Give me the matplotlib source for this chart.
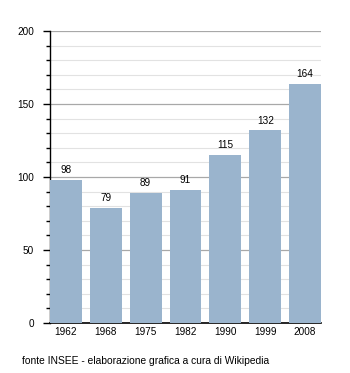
import matplotlib
matplotlib.use("Agg")
import matplotlib.pyplot as plt
from matplotlib.ticker import MultipleLocator

YEARS = ["1962", "1968", "1975", "1982", "1990", "1999", "2008"]
POPULATION = [98, 79, 89, 91, 115, 132, 164]
SOURCE = "fonte INSEE - elaborazione grafica a cura di Wikipedia"

BAR_COLOR = "#9ab4cd"

plt.rcParams["font.family"] = ["Liberation Sans", "DejaVu Sans"]

fig = plt.figure(figsize=(3.5, 3.73), dpi=100)
ax = fig.add_axes([50 / 350, 1 - 323 / 373, 271 / 350, 292 / 373])

xs = list(range(len(YEARS)))
ax.bar(xs, POPULATION, width=0.8, color=BAR_COLOR, zorder=3)
for x, v in zip(xs, POPULATION):
    ax.text(x, v + 3.2, str(v), ha="center", va="bottom", fontsize=7.2, zorder=4)

ax.set_xlim(-0.4, len(YEARS) - 0.6)
ax.set_ylim(0, 200)
ax.set_xticks(xs)
ax.set_xticklabels(YEARS)
ax.yaxis.set_major_locator(MultipleLocator(50))
ax.yaxis.set_minor_locator(MultipleLocator(10))

ax.grid(axis="y", which="major", color="#a8a8a8", linewidth=0.9, zorder=1)
ax.grid(axis="y", which="minor", color="#e2e2e2", linewidth=0.8, zorder=1)

for side in ("top", "right"):
    ax.spines[side].set_visible(False)
ax.spines["left"].set_linewidth(1.0)
ax.spines["bottom"].set_linewidth(1.2)
ax.tick_params(axis="x", length=0, labelsize=7.2, pad=3)
ax.tick_params(axis="y", which="major", length=5, width=1, labelsize=7.2, pad=6.5)
ax.tick_params(axis="y", which="minor", length=3, width=1)

fig.text(22 / 350, 1 - 361 / 373, SOURCE, fontsize=7.4, va="center", ha="left")

fig.savefig("out.png", dpi=100, facecolor="white")
